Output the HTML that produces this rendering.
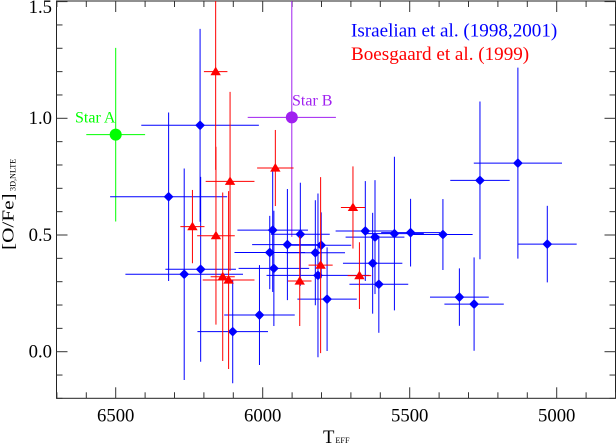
<!DOCTYPE html>
<html>
<head>
<meta charset="utf-8">
<style>
html,body{margin:0;padding:0;background:#fff;width:616px;height:445px;overflow:hidden}
svg{display:block;font-family:"Liberation Serif",serif}
</style>
</head>
<body>
<svg id="chart" xmlns="http://www.w3.org/2000/svg" width="616" height="445" viewBox="0 0 616 445">
  <defs><clipPath id="plot-clip"><rect x="56.5" y="1" width="559" height="397.3"/></clipPath></defs>
  <g id="axes"></g>
  <g id="marks" clip-path="url(#plot-clip)"></g>
  <text x="351" y="36.7" font-size="19.1" fill="#0000ff">Israelian et al. (1998,2001)</text>
  <text x="351" y="60" font-size="19.1" fill="#ff0000">Boesgaard et al. (1999)</text>
  <text x="75" y="122.7" font-size="16" fill="#00ff00">Star A</text>
  <text x="292" y="105.7" font-size="16" fill="#a020f0">Star B</text>
  <text x="323" y="443" font-size="18.7" fill="#000">T<tspan font-size="8.2" dx="1">EFF</tspan></text>
  <text transform="translate(13.4,250) rotate(-90) scale(1.25,1)" font-size="17" fill="#000">[O/Fe]</text>
  <text transform="translate(15.6,191) rotate(-90)" font-size="8.2" fill="#000">3D,NLTE</text>
</svg>
<script>
// Israelian et al. series
var blueTeff = [6213,6320,6267,6211,6102,6011,5966,5976,5962,5916,5872,5821,5801,5812,5781,5651,5618,5626,5605,5552,5497,5387,5331,5281,5261,5132,5032];
var blueOFe = [0.970,0.664,0.332,0.353,0.086,0.157,0.521,0.425,0.357,0.459,0.503,0.424,0.456,0.327,0.225,0.517,0.491,0.379,0.289,0.506,0.510,0.502,0.234,0.204,0.734,0.808,0.461];
var blueTeffErr = [200,199,200,120,120,120,120,120,120,120,100,101,102,175,101,101,100,101,100,100,100,101,100,101,101,150,100];
var blueOFeErr = [0.413,0.361,0.453,0.396,0.221,0.214,0.265,0.157,0.247,0.238,0.221,0.225,0.141,0.351,0.222,0.214,0.244,0.216,0.208,0.329,0.145,0.152,0.123,0.200,0.338,0.409,0.164];
// Boesgaard et al. series
var redTeff = [6160,6159,6111,6239,6136,6116,5957,5874,5803,5693,5671];
var redOFe = [1.200,0.497,0.730,0.536,0.321,0.307,0.787,0.303,0.371,0.618,0.326];
var redTeffErr = [40,64,83,41,41,88,62,40,41,41,40];
var redOFeErr = [0.421,0.381,0.383,0.157,0.361,0.381,0.163,0.193,0.377,0.176,0.143];
// Highlighted stars
var starTeff = [6500,5901];
var starOFe = [0.930,1.004];
var starTeffErr = [100,150];
var starOFeErr = [0.372,0.512];
var starNames = ['star-a','star-b'];
var starColors = ['#00ff00','#a020f0'];
// Axis ticks
var xTickLabels = ['6500','6000','5500','5000'];
var yTickLabels = ['0.0','0.5','1.0','1.5'];
var xMinorTicks = [6700,6600,6500,6400,6300,6200,6100,6000,5900,5800,5700,5600,5500,5400,5300,5200,5100,5000,4900,4800];
var yMinorTicks = [-0.2,-0.1,0,0.1,0.2,0.3,0.4,0.5,0.6,0.7,0.8,0.9,1.0,1.1,1.2,1.3,1.4,1.5,1.6,1.7];

var NS = 'http://www.w3.org/2000/svg';
function xScale(t){ return 115.7 + (6500 - t) * 0.294; }
function yScale(v){ return 351.7 - v * 233.4; }

var axes = document.getElementById('axes');
var marks = document.getElementById('marks');

function line(parent, x1, y1, x2, y2, color, width){
  var l = document.createElementNS(NS, 'line');
  l.setAttribute('x1', x1);
  l.setAttribute('y1', y1);
  l.setAttribute('x2', x2);
  l.setAttribute('y2', y2);
  l.setAttribute('stroke', color);
  l.setAttribute('stroke-width', width);
  parent.appendChild(l);
  return l;
}

// Frame
var frame = document.createElementNS(NS, 'rect');
frame.setAttribute('x', 56.5);
frame.setAttribute('y', 1);
frame.setAttribute('width', 559);
frame.setAttribute('height', 397.3);
frame.setAttribute('fill', 'none');
frame.setAttribute('stroke', '#222');
frame.setAttribute('stroke-width', 1);


axes.appendChild(frame);

// X ticks
xMinorTicks.forEach(function(t){
  var major = t % 500 === 0;
  var len = major ? 11 : 6;
  var px = xScale(t);
  var a = line(axes, px, 398.3, px, 398.3 - len, '#333', 1);
  
  
  var b = line(axes, px, 1, px, 1 + len, '#333', 1);
  
  
});
// Y ticks
yMinorTicks.forEach(function(v){
  var major = Math.abs(v * 2 - Math.round(v * 2)) < 1e-6;
  var len = major ? 11 : 6;
  var py = yScale(v);
  var a = line(axes, 56.5, py, 56.5 + len, py, '#333', 1);
  
  
  var b = line(axes, 615.5, py, 615.5 - len, py, '#333', 1);
  
  
});
// Tick labels
xTickLabels.forEach(function(lbl){
  var tx = document.createElementNS(NS, 'text');
  tx.setAttribute('x', xScale(parseFloat(lbl)));
  tx.setAttribute('y', 421.7);
  tx.setAttribute('text-anchor', 'middle');
  tx.setAttribute('font-size', '18.7');
  
  
  tx.textContent = lbl;
  axes.appendChild(tx);
});
yTickLabels.forEach(function(lbl){
  var tx = document.createElementNS(NS, 'text');
  tx.setAttribute('x', 52);
  tx.setAttribute('y', Math.max(13, yScale(parseFloat(lbl)) + 5.9));
  tx.setAttribute('text-anchor', 'end');
  tx.setAttribute('font-size', '18.7');
  
  
  tx.textContent = lbl;
  axes.appendChild(tx);
});

function errorBars(group, t, v, te, ve, color){
  var px = xScale(t), py = yScale(v);
  var h = line(group, xScale(t + te), py, xScale(t - te), py, color, 1);
  
  
  var u = line(group, px, yScale(v + ve), px, yScale(v - ve), color, 1);
  
  
}

// Stars (drawn first, beneath the surveys)
starTeff.forEach(function(t, i){
  var g = document.createElementNS(NS, 'g');
  
  
  errorBars(g, t, starOFe[i], starTeffErr[i], starOFeErr[i], starColors[i]);
  var c = document.createElementNS(NS, 'circle');
  c.setAttribute('cx', xScale(t));
  c.setAttribute('cy', yScale(starOFe[i]));
  c.setAttribute('r', 6);
  c.setAttribute('fill', starColors[i]);
  
  
  g.appendChild(c);
  marks.appendChild(g);
});

// Blue series
blueTeff.forEach(function(t, i){
  var g = document.createElementNS(NS, 'g');
  
  
  errorBars(g, t, blueOFe[i], blueTeffErr[i], blueOFeErr[i], '#0000ff');
  marks.appendChild(g);
});
blueTeff.forEach(function(t, i){
  var px = xScale(t), py = yScale(blueOFe[i]), r = 4.9;
  var d = document.createElementNS(NS, 'polygon');
  d.setAttribute('points', px + ',' + (py - r) + ' ' + (px + r) + ',' + py + ' ' + px + ',' + (py + r) + ' ' + (px - r) + ',' + py);
  d.setAttribute('fill', '#0000ff');
  
  
  marks.appendChild(d);
});

// Red series
redTeff.forEach(function(t, i){
  var g = document.createElementNS(NS, 'g');
  
  
  errorBars(g, t, redOFe[i], redTeffErr[i], redOFeErr[i], '#ff0000');
  marks.appendChild(g);
});
redTeff.forEach(function(t, i){
  var px = xScale(t), py = yScale(redOFe[i]);
  var d = document.createElementNS(NS, 'polygon');
  d.setAttribute('points', px + ',' + (py - 5) + ' ' + (px + 5.2) + ',' + (py + 3.6) + ' ' + (px - 5.2) + ',' + (py + 3.6));
  d.setAttribute('fill', '#ff0000');
  
  
  marks.appendChild(d);
});
</script>
</body>
</html>
